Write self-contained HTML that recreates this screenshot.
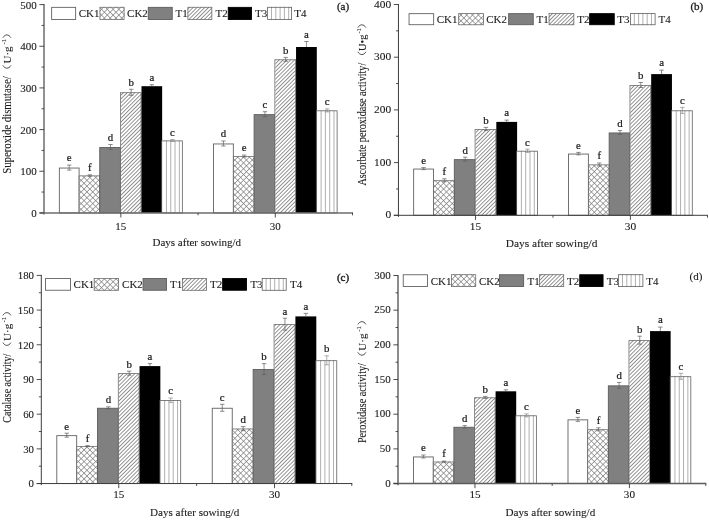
<!DOCTYPE html>
<html><head><meta charset="utf-8"><title>Figure</title>
<style>
html,body{margin:0;padding:0;background:#fff;}
body{width:709px;height:520px;overflow:hidden;font-family:"Liberation Serif",serif;}
svg{display:block;will-change:transform;transform:translateZ(0);}
text{font-family:"Liberation Serif",serif;fill:#1a1a1a;stroke:#1a1a1a;stroke-width:0.1px;}
.t{font-size:11px;}
.l{font-size:10.8px;stroke-width:0.22px;}
.s{font-size:10.5px;}
</style></head><body>
<svg width="709" height="520" viewBox="0 0 709 520">
<defs>
<pattern id="dg" width="2.72" height="2.72" patternUnits="userSpaceOnUse" patternTransform="rotate(-45)">
<rect width="2.72" height="2.72" fill="#fff"/><rect width="2.72" height="0.8" fill="#7a7a7a"/></pattern>
<pattern id="xh" width="4.1" height="4.1" patternUnits="userSpaceOnUse" patternTransform="rotate(45)">
<rect width="4.1" height="4.1" fill="#fff"/><rect width="4.1" height="0.65" fill="#7c7c7c"/><rect width="0.65" height="4.1" fill="#7c7c7c"/></pattern>
<pattern id="vl" width="4.3" height="4" patternUnits="userSpaceOnUse">
<rect width="4.3" height="4" fill="#fff"/><rect x="3.4" width="0.9" height="4" fill="#a8a8a8"/></pattern>
</defs>
<rect width="709" height="520" fill="#fff"/>

<g id="pa">
<rect x="59.35" y="168.05" width="19.75" height="44.85" fill="#fff" stroke="#626262" stroke-width="0.9"/>
<path d="M69.22 165.1V170.1M67.02 165.1H71.42M67.02 170.1H71.42" stroke="#5e5e5e" stroke-width="0.7" fill="none"/>
<text class="l" x="69.22" y="161.4" text-anchor="middle">e</text>
<rect x="79.55" y="175.5" width="20.65" height="37.4" fill="url(#xh)"/>
<rect x="79.1" y="175.9" width="20.65" height="37" fill="none" stroke="#707070" stroke-width="0.8"/>
<path d="M89.88 174.8V176.2M87.67 174.8H92.08M87.67 176.2H92.08" stroke="#5e5e5e" stroke-width="0.7" fill="none"/>
<text class="l" x="89.88" y="171.1" text-anchor="middle">f</text>
<rect x="99.75" y="147.45" width="20.65" height="65.45" fill="#808080" stroke="#5c5c5c" stroke-width="0.9"/>
<path d="M110.52 144.5V149.5M108.32 144.5H112.72M108.32 149.5H112.72" stroke="#5e5e5e" stroke-width="0.7" fill="none"/>
<text class="l" x="110.52" y="140.8" text-anchor="middle">d</text>
<rect x="120.85" y="92.3" width="20.65" height="120.6" fill="url(#dg)"/>
<rect x="120.4" y="92.7" width="20.65" height="120.2" fill="none" stroke="#707070" stroke-width="0.8"/>
<path d="M131.17 89.3V95.3M128.97 89.3H133.37M128.97 95.3H133.37" stroke="#5e5e5e" stroke-width="0.7" fill="none"/>
<text class="l" x="131.17" y="85.6" text-anchor="middle">b</text>
<rect x="141.5" y="86.2" width="20.65" height="126.7" fill="#000"/>
<path d="M151.82 84.7V86.2M149.62 84.7H154.02" stroke="#5e5e5e" stroke-width="0.7" fill="none"/>
<text class="l" x="151.82" y="81" text-anchor="middle">a</text>
<rect x="162.15" y="140.5" width="20.65" height="72.4" fill="#fff"/>
<path d="M166.45 140.50V212.90M170.75 140.50V212.90M175.05 140.50V212.90M179.35 140.50V212.90" stroke="#a2a2a2" stroke-width="0.85" fill="none"/>
<rect x="161.7" y="140.9" width="20.65" height="72" fill="none" stroke="#606060" stroke-width="0.8"/>
<path d="M172.47 139.5V141.5M170.28 139.5H174.67M170.28 141.5H174.67" stroke="#8a8a8a" stroke-width="0.7" fill="none"/>
<text class="l" x="172.47" y="135.8" text-anchor="middle">c</text>
<rect x="213.5" y="143.95" width="19.85" height="68.95" fill="#fff" stroke="#626262" stroke-width="0.9"/>
<path d="M223.43 141V146M221.23 141H225.62M221.23 146H225.62" stroke="#5e5e5e" stroke-width="0.7" fill="none"/>
<text class="l" x="223.43" y="137.3" text-anchor="middle">d</text>
<rect x="233.8" y="156.1" width="20.75" height="56.8" fill="url(#xh)"/>
<rect x="233.35" y="156.5" width="20.75" height="56.4" fill="none" stroke="#707070" stroke-width="0.8"/>
<path d="M244.18 155.1V157.1M241.98 155.1H246.38M241.98 157.1H246.38" stroke="#5e5e5e" stroke-width="0.7" fill="none"/>
<text class="l" x="244.18" y="151.4" text-anchor="middle">e</text>
<rect x="254.1" y="114.65" width="20.75" height="98.25" fill="#808080" stroke="#5c5c5c" stroke-width="0.9"/>
<path d="M264.93 111.7V116.7M262.73 111.7H267.12M262.73 116.7H267.12" stroke="#5e5e5e" stroke-width="0.7" fill="none"/>
<text class="l" x="264.93" y="108" text-anchor="middle">c</text>
<rect x="275.3" y="59.4" width="20.75" height="153.5" fill="url(#dg)"/>
<rect x="274.85" y="59.8" width="20.75" height="153.1" fill="none" stroke="#707070" stroke-width="0.8"/>
<path d="M285.68 57.4V61.4M283.48 57.4H287.88M283.48 61.4H287.88" stroke="#5e5e5e" stroke-width="0.7" fill="none"/>
<text class="l" x="285.68" y="53.7" text-anchor="middle">b</text>
<rect x="296.05" y="47" width="20.75" height="165.9" fill="#000"/>
<path d="M306.43 41.5V47M304.23 41.5H308.62" stroke="#5e5e5e" stroke-width="0.7" fill="none"/>
<text class="l" x="306.43" y="37.8" text-anchor="middle">a</text>
<rect x="316.8" y="110.4" width="20.75" height="102.5" fill="#fff"/>
<path d="M321.10 110.40V212.90M325.40 110.40V212.90M329.70 110.40V212.90M334.00 110.40V212.90" stroke="#a2a2a2" stroke-width="0.85" fill="none"/>
<rect x="316.35" y="110.8" width="20.75" height="102.1" fill="none" stroke="#606060" stroke-width="0.8"/>
<path d="M327.18 108.9V111.9M324.98 108.9H329.38M324.98 111.9H329.38" stroke="#8a8a8a" stroke-width="0.7" fill="none"/>
<text class="l" x="327.18" y="105.2" text-anchor="middle">c</text>
<path d="M44 4.1V214.5M39.4 212.9H353" stroke="#6e6e6e" stroke-width="1.5" fill="none"/>
<text class="t" x="36.7" y="217.1" style="font-size:11px" text-anchor="end">0</text>
<text class="t" x="36.7" y="175.44" style="font-size:11px" text-anchor="end">100</text>
<text class="t" x="36.7" y="133.78" style="font-size:11px" text-anchor="end">200</text>
<text class="t" x="36.7" y="92.12" style="font-size:11px" text-anchor="end">300</text>
<text class="t" x="36.7" y="50.46" style="font-size:11px" text-anchor="end">400</text>
<text class="t" x="36.7" y="8.8" style="font-size:11px" text-anchor="end">500</text>
<path d="M39.4 212.9H44M39.4 171.24H44M39.4 129.58H44M39.4 87.92H44M39.4 46.26H44M39.4 4.6H44M41.6 192.07H44M41.6 150.41H44M41.6 108.75H44M41.6 67.09H44M41.6 25.43H44M120.85 212.9V217.5M275.3 212.9V217.5M198.07 212.9V215.3M352.5 212.9V215.3" stroke="#3a3a3a" stroke-width="0.9" fill="none"/>
<text class="t" style="font-size:11px" x="120.85" y="229.5" text-anchor="middle">15</text>
<text class="t" style="font-size:11px" x="275.3" y="229.5" text-anchor="middle">30</text>
<text class="t" style="font-size:11px" x="196.8" y="246" text-anchor="middle">Days after sowing/d</text>
<g transform="translate(10.6 173.8) rotate(-90)">
<text x="0" y="0" font-size="11.5" textLength="97.6" lengthAdjust="spacingAndGlyphs">Superoxide dismutase/</text>
<path d="M108.4 -7.7C104.7 -5.6 104.7 -1.8 108.4 0.3" stroke="#1a1a1a" stroke-width="0.75" fill="none"/>
<text x="110.3" y="0" font-size="11.0">U·g</text>
<text x="129.3" y="-4.9" font-size="6.6">-1</text>
<path d="M136.1 -7.7C139.8 -5.6 139.8 -1.8 136.1 0.3" stroke="#1a1a1a" stroke-width="0.75" fill="none"/>
</g>
<rect x="51.65" y="7.35" width="24" height="12.1" fill="#fff" stroke="#626262" stroke-width="0.9"/>
<text class="t" x="78.7" y="17.3">CK1</text>
<rect x="99.6" y="6.9" width="24.9" height="13" fill="url(#xh)"/>
<rect x="100" y="7.3" width="24.1" height="12.2" fill="none" stroke="#707070" stroke-width="0.8"/>
<text class="t" x="127.1" y="17.3">CK2</text>
<rect x="148.25" y="7.35" width="24" height="12.1" fill="#808080" stroke="#5c5c5c" stroke-width="0.9"/>
<text class="t" x="175.5" y="17.3">T1</text>
<rect x="187.5" y="6.9" width="24.7" height="13" fill="url(#dg)"/>
<rect x="187.9" y="7.3" width="23.9" height="12.2" fill="none" stroke="#707070" stroke-width="0.8"/>
<text class="t" x="215.6" y="17.3">T2</text>
<rect x="228.25" y="7.35" width="23.2" height="12.1" fill="#000000" stroke="#000000" stroke-width="0.9"/>
<text class="t" x="255" y="17.3">T3</text>
<rect x="267.2" y="6.9" width="24.8" height="13" fill="#fff"/>
<path d="M271.50 6.90V19.90M275.80 6.90V19.90M280.10 6.90V19.90M284.40 6.90V19.90M288.70 6.90V19.90" stroke="#a2a2a2" stroke-width="0.85" fill="none"/>
<rect x="267.6" y="7.3" width="24" height="12.2" fill="none" stroke="#606060" stroke-width="0.8"/>
<text class="t" x="294.3" y="17.3">T4</text>
<text class="t" x="343" y="10.3" style="stroke-width:0.3px" text-anchor="middle">(a)</text>
</g>
<g id="pb">
<rect x="413.65" y="169.05" width="19.88" height="46.25" fill="#fff" stroke="#626262" stroke-width="0.9"/>
<path d="M423.59 167.6V169.6M421.39 167.6H425.79M421.39 169.6H425.79" stroke="#5e5e5e" stroke-width="0.7" fill="none"/>
<text class="l" x="423.59" y="163.9" text-anchor="middle">e</text>
<rect x="433.98" y="180.3" width="20.78" height="35" fill="url(#xh)"/>
<rect x="433.53" y="180.7" width="20.78" height="34.6" fill="none" stroke="#707070" stroke-width="0.8"/>
<path d="M444.37 178.8V181.8M442.17 178.8H446.57M442.17 181.8H446.57" stroke="#5e5e5e" stroke-width="0.7" fill="none"/>
<text class="l" x="444.37" y="175.1" text-anchor="middle">f</text>
<rect x="454.31" y="159.65" width="20.78" height="55.65" fill="#808080" stroke="#5c5c5c" stroke-width="0.9"/>
<path d="M465.15 157.2V161.2M462.95 157.2H467.35M462.95 161.2H467.35" stroke="#5e5e5e" stroke-width="0.7" fill="none"/>
<text class="l" x="465.15" y="153.5" text-anchor="middle">d</text>
<rect x="475.54" y="129" width="20.78" height="86.3" fill="url(#dg)"/>
<rect x="475.09" y="129.4" width="20.78" height="85.9" fill="none" stroke="#707070" stroke-width="0.8"/>
<path d="M485.93 127.4V130.6M483.73 127.4H488.13M483.73 130.6H488.13" stroke="#5e5e5e" stroke-width="0.7" fill="none"/>
<text class="l" x="485.93" y="123.7" text-anchor="middle">b</text>
<rect x="496.32" y="121.9" width="20.78" height="93.4" fill="#000"/>
<path d="M506.71 120.1V121.9M504.51 120.1H508.91" stroke="#5e5e5e" stroke-width="0.7" fill="none"/>
<text class="l" x="506.71" y="116.4" text-anchor="middle">a</text>
<rect x="517.1" y="150.8" width="20.78" height="64.5" fill="#fff"/>
<path d="M521.40 150.80V215.30M525.70 150.80V215.30M530.00 150.80V215.30M534.30 150.80V215.30" stroke="#a2a2a2" stroke-width="0.85" fill="none"/>
<rect x="516.65" y="151.2" width="20.78" height="64.1" fill="none" stroke="#606060" stroke-width="0.8"/>
<path d="M527.49 149.2V152.4M525.29 149.2H529.69M525.29 152.4H529.69" stroke="#8a8a8a" stroke-width="0.7" fill="none"/>
<text class="l" x="527.49" y="145.5" text-anchor="middle">c</text>
<rect x="568.5" y="154.05" width="19.88" height="61.25" fill="#fff" stroke="#626262" stroke-width="0.9"/>
<path d="M578.44 152.4V154.8M576.24 152.4H580.64M576.24 154.8H580.64" stroke="#5e5e5e" stroke-width="0.7" fill="none"/>
<text class="l" x="578.44" y="148.7" text-anchor="middle">e</text>
<rect x="588.83" y="164.5" width="20.78" height="50.8" fill="url(#xh)"/>
<rect x="588.38" y="164.9" width="20.78" height="50.4" fill="none" stroke="#707070" stroke-width="0.8"/>
<path d="M599.22 163V166M597.02 163H601.42M597.02 166H601.42" stroke="#5e5e5e" stroke-width="0.7" fill="none"/>
<text class="l" x="599.22" y="159.3" text-anchor="middle">f</text>
<rect x="609.16" y="132.95" width="20.78" height="82.35" fill="#808080" stroke="#5c5c5c" stroke-width="0.9"/>
<path d="M620 130.5V134.5M617.8 130.5H622.2M617.8 134.5H622.2" stroke="#5e5e5e" stroke-width="0.7" fill="none"/>
<text class="l" x="620" y="126.8" text-anchor="middle">d</text>
<rect x="630.39" y="85" width="20.78" height="130.3" fill="url(#dg)"/>
<rect x="629.94" y="85.4" width="20.78" height="129.9" fill="none" stroke="#707070" stroke-width="0.8"/>
<path d="M640.78 82.5V87.5M638.58 82.5H642.98M638.58 87.5H642.98" stroke="#5e5e5e" stroke-width="0.7" fill="none"/>
<text class="l" x="640.78" y="78.8" text-anchor="middle">b</text>
<rect x="651.17" y="74.1" width="20.78" height="141.2" fill="#000"/>
<path d="M661.56 70.1V74.1M659.36 70.1H663.76" stroke="#5e5e5e" stroke-width="0.7" fill="none"/>
<text class="l" x="661.56" y="66.4" text-anchor="middle">a</text>
<rect x="671.95" y="110.4" width="20.78" height="104.9" fill="#fff"/>
<path d="M676.25 110.40V215.30M680.55 110.40V215.30M684.85 110.40V215.30M689.15 110.40V215.30" stroke="#a2a2a2" stroke-width="0.85" fill="none"/>
<rect x="671.5" y="110.8" width="20.78" height="104.5" fill="none" stroke="#606060" stroke-width="0.8"/>
<path d="M682.34 107.4V113.4M680.14 107.4H684.54M680.14 113.4H684.54" stroke="#8a8a8a" stroke-width="0.7" fill="none"/>
<text class="l" x="682.34" y="103.7" text-anchor="middle">c</text>
<path d="M398.45 4V216.9M393.85 215.3H708" stroke="#3c3c3c" stroke-width="1.0" fill="none"/>
<text class="t" x="391.15" y="218.3" style="font-size:11.4px" text-anchor="end">0</text>
<text class="t" x="391.15" y="165.6" style="font-size:11.4px" text-anchor="end">100</text>
<text class="t" x="391.15" y="112.9" style="font-size:11.4px" text-anchor="end">200</text>
<text class="t" x="391.15" y="60.2" style="font-size:11.4px" text-anchor="end">300</text>
<text class="t" x="391.15" y="7.5" style="font-size:11.4px" text-anchor="end">400</text>
<path d="M393.85 215.3H398.45M393.85 162.6H398.45M393.85 109.9H398.45M393.85 57.2H398.45M393.85 4.5H398.45M396.05 188.95H398.45M396.05 136.25H398.45M396.05 83.55H398.45M396.05 30.85H398.45M475.54 215.3V219.9M630.39 215.3V219.9M552.96 215.3V217.7M707.5 215.3V217.7" stroke="#3a3a3a" stroke-width="0.9" fill="none"/>
<text class="t" style="font-size:11.4px" x="475.54" y="229.6" text-anchor="middle">15</text>
<text class="t" style="font-size:11.4px" x="630.39" y="229.6" text-anchor="middle">30</text>
<text class="t" style="font-size:11.4px" x="551.6" y="246.7" text-anchor="middle">Days after sowing/d</text>
<g transform="translate(365.6 185.6) rotate(-90)">
<text x="0" y="0" font-size="11.5" textLength="122.8" lengthAdjust="spacingAndGlyphs">Ascorbate peroxidase activity/</text>
<path d="M133.8 -7.7C130.1 -5.6 130.1 -1.8 133.8 0.3" stroke="#1a1a1a" stroke-width="0.75" fill="none"/>
<text x="134.6" y="0" font-size="10.4">U•g</text>
<text x="152" y="-4.9" font-size="6.6">-1</text>
<path d="M158 -7.7C161.7 -5.6 161.7 -1.8 158 0.3" stroke="#1a1a1a" stroke-width="0.75" fill="none"/>
</g>
<rect x="409.05" y="13.65" width="24.6" height="11.05" fill="#fff" stroke="#626262" stroke-width="0.9"/>
<text class="t" x="436.7" y="23.07">CK1</text>
<rect x="458.3" y="13.2" width="25.5" height="11.95" fill="url(#xh)"/>
<rect x="458.7" y="13.6" width="24.7" height="11.15" fill="none" stroke="#707070" stroke-width="0.8"/>
<text class="t" x="486.2" y="23.07">CK2</text>
<rect x="508.65" y="13.65" width="24.6" height="11.05" fill="#808080" stroke="#5c5c5c" stroke-width="0.9"/>
<text class="t" x="536.6" y="23.07">T1</text>
<rect x="548.7" y="13.2" width="25.5" height="11.95" fill="url(#dg)"/>
<rect x="549.1" y="13.6" width="24.7" height="11.15" fill="none" stroke="#707070" stroke-width="0.8"/>
<text class="t" x="577.2" y="23.07">T2</text>
<rect x="589.65" y="13.65" width="24.6" height="11.05" fill="#000000" stroke="#000000" stroke-width="0.9"/>
<text class="t" x="617.3" y="23.07">T3</text>
<rect x="630" y="13.2" width="25.5" height="11.95" fill="#fff"/>
<path d="M634.30 13.20V25.15M638.60 13.20V25.15M642.90 13.20V25.15M647.20 13.20V25.15M651.50 13.20V25.15" stroke="#a2a2a2" stroke-width="0.85" fill="none"/>
<rect x="630.4" y="13.6" width="24.7" height="11.15" fill="none" stroke="#606060" stroke-width="0.8"/>
<text class="t" x="658.5" y="23.07">T4</text>
<text class="t" x="696.8" y="10.2" style="stroke-width:0.3px" text-anchor="middle">(b)</text>
</g>
<g id="pc">
<rect x="56.8" y="435.65" width="19.9" height="47.9" fill="#fff" stroke="#626262" stroke-width="0.9"/>
<path d="M66.75 433.2V437.2M64.55 433.2H68.95M64.55 437.2H68.95" stroke="#5e5e5e" stroke-width="0.7" fill="none"/>
<text class="l" x="66.75" y="429.5" text-anchor="middle">e</text>
<rect x="77.15" y="446.1" width="20.8" height="37.45" fill="url(#xh)"/>
<rect x="76.7" y="446.5" width="20.8" height="37.05" fill="none" stroke="#707070" stroke-width="0.8"/>
<path d="M87.55 445.6V446.6M85.35 445.6H89.75M85.35 446.6H89.75" stroke="#5e5e5e" stroke-width="0.7" fill="none"/>
<text class="l" x="87.55" y="441.9" text-anchor="middle">f</text>
<rect x="97.5" y="408.25" width="20.8" height="75.3" fill="#808080" stroke="#5c5c5c" stroke-width="0.9"/>
<path d="M108.35 406.8V408.8M106.15 406.8H110.55M106.15 408.8H110.55" stroke="#5e5e5e" stroke-width="0.7" fill="none"/>
<text class="l" x="108.35" y="403.1" text-anchor="middle">d</text>
<rect x="118.75" y="373.2" width="20.8" height="110.35" fill="url(#dg)"/>
<rect x="118.3" y="373.6" width="20.8" height="109.95" fill="none" stroke="#707070" stroke-width="0.8"/>
<path d="M129.15 371.2V375.2M126.95 371.2H131.35M126.95 375.2H131.35" stroke="#5e5e5e" stroke-width="0.7" fill="none"/>
<text class="l" x="129.15" y="367.5" text-anchor="middle">b</text>
<rect x="139.55" y="366.1" width="20.8" height="117.45" fill="#000"/>
<path d="M149.95 363.6V366.1M147.75 363.6H152.15" stroke="#5e5e5e" stroke-width="0.7" fill="none"/>
<text class="l" x="149.95" y="359.9" text-anchor="middle">a</text>
<rect x="160.35" y="400.2" width="20.8" height="83.35" fill="#fff"/>
<path d="M164.65 400.20V483.55M168.95 400.20V483.55M173.25 400.20V483.55M177.55 400.20V483.55" stroke="#a2a2a2" stroke-width="0.85" fill="none"/>
<rect x="159.9" y="400.6" width="20.8" height="82.95" fill="none" stroke="#606060" stroke-width="0.8"/>
<path d="M170.75 398V402.4M168.55 398H172.95M168.55 402.4H172.95" stroke="#8a8a8a" stroke-width="0.7" fill="none"/>
<text class="l" x="170.75" y="394.3" text-anchor="middle">c</text>
<rect x="212.25" y="408.25" width="20" height="75.3" fill="#fff" stroke="#626262" stroke-width="0.9"/>
<path d="M222.25 404.3V411.3M220.05 404.3H224.45M220.05 411.3H224.45" stroke="#5e5e5e" stroke-width="0.7" fill="none"/>
<text class="l" x="222.25" y="400.6" text-anchor="middle">c</text>
<rect x="232.7" y="428.6" width="20.9" height="54.95" fill="url(#xh)"/>
<rect x="232.25" y="429" width="20.9" height="54.55" fill="none" stroke="#707070" stroke-width="0.8"/>
<path d="M243.15 426.6V430.6M240.95 426.6H245.35M240.95 430.6H245.35" stroke="#5e5e5e" stroke-width="0.7" fill="none"/>
<text class="l" x="243.15" y="422.9" text-anchor="middle">d</text>
<rect x="253.15" y="369.55" width="20.9" height="114" fill="#808080" stroke="#5c5c5c" stroke-width="0.9"/>
<path d="M264.05 363.6V374.6M261.85 363.6H266.25M261.85 374.6H266.25" stroke="#5e5e5e" stroke-width="0.7" fill="none"/>
<text class="l" x="264.05" y="359.9" text-anchor="middle">b</text>
<rect x="274.5" y="324.2" width="20.9" height="159.35" fill="url(#dg)"/>
<rect x="274.05" y="324.6" width="20.9" height="158.95" fill="none" stroke="#707070" stroke-width="0.8"/>
<path d="M284.95 318.2V330.2M282.75 318.2H287.15M282.75 330.2H287.15" stroke="#5e5e5e" stroke-width="0.7" fill="none"/>
<text class="l" x="284.95" y="314.5" text-anchor="middle">a</text>
<rect x="295.4" y="316.4" width="20.9" height="167.15" fill="#000"/>
<path d="M305.85 313.4V316.4M303.65 313.4H308.05" stroke="#5e5e5e" stroke-width="0.7" fill="none"/>
<text class="l" x="305.85" y="309.7" text-anchor="middle">a</text>
<rect x="316.3" y="360.3" width="20.9" height="123.25" fill="#fff"/>
<path d="M320.60 360.30V483.55M324.90 360.30V483.55M329.20 360.30V483.55M333.50 360.30V483.55" stroke="#a2a2a2" stroke-width="0.85" fill="none"/>
<rect x="315.85" y="360.7" width="20.9" height="122.85" fill="none" stroke="#606060" stroke-width="0.8"/>
<path d="M326.75 355.8V364.8M324.55 355.8H328.95M324.55 364.8H328.95" stroke="#8a8a8a" stroke-width="0.7" fill="none"/>
<text class="l" x="326.75" y="352.1" text-anchor="middle">b</text>
<path d="M41.3 274.9V485.15M36.7 483.55H352.3" stroke="#3c3c3c" stroke-width="1.0" fill="none"/>
<text class="t" x="34" y="487.35" style="font-size:10.8px" text-anchor="end">0</text>
<text class="t" x="34" y="452.66" style="font-size:10.8px" text-anchor="end">30</text>
<text class="t" x="34" y="417.97" style="font-size:10.8px" text-anchor="end">60</text>
<text class="t" x="34" y="383.28" style="font-size:10.8px" text-anchor="end">90</text>
<text class="t" x="34" y="348.58" style="font-size:10.8px" text-anchor="end">120</text>
<text class="t" x="34" y="313.89" style="font-size:10.8px" text-anchor="end">150</text>
<text class="t" x="34" y="279.2" style="font-size:10.8px" text-anchor="end">180</text>
<path d="M36.7 483.55H41.3M36.7 448.86H41.3M36.7 414.17H41.3M36.7 379.48H41.3M36.7 344.78H41.3M36.7 310.09H41.3M36.7 275.4H41.3M38.9 466.2H41.3M38.9 431.51H41.3M38.9 396.82H41.3M38.9 362.13H41.3M38.9 327.44H41.3M38.9 292.75H41.3M118.75 483.55V488.15M274.5 483.55V488.15M196.62 483.55V485.95M351.8 483.55V485.95" stroke="#3a3a3a" stroke-width="0.9" fill="none"/>
<text class="t" style="font-size:11.1px" x="118.75" y="498.4" text-anchor="middle">15</text>
<text class="t" style="font-size:11.1px" x="274.5" y="498.4" text-anchor="middle">30</text>
<text class="t" style="font-size:11.1px" x="194.7" y="516.3" text-anchor="middle">Days after sowing/d</text>
<g transform="translate(10.6 422.7) rotate(-90)">
<text x="0" y="0" font-size="11.5" textLength="69" lengthAdjust="spacingAndGlyphs">Catalase activity/</text>
<path d="M80.1 -7.7C76.4 -5.6 76.4 -1.8 80.1 0.3" stroke="#1a1a1a" stroke-width="0.75" fill="none"/>
<text x="81.8" y="0" font-size="11.0">U·g</text>
<text x="100.2" y="-4.9" font-size="6.6">-1</text>
<path d="M107.3 -7.7C111 -5.6 111 -1.8 107.3 0.3" stroke="#1a1a1a" stroke-width="0.75" fill="none"/>
</g>
<rect x="45.55" y="278.55" width="24.9" height="11.7" fill="#fff" stroke="#626262" stroke-width="0.9"/>
<text class="t" x="73.6" y="288.3">CK1</text>
<rect x="93.8" y="278.1" width="25.2" height="12.6" fill="url(#xh)"/>
<rect x="94.2" y="278.5" width="24.4" height="11.8" fill="none" stroke="#707070" stroke-width="0.8"/>
<text class="t" x="122.1" y="288.3">CK2</text>
<rect x="143.05" y="278.55" width="23.5" height="11.7" fill="#808080" stroke="#5c5c5c" stroke-width="0.9"/>
<text class="t" x="170" y="288.3">T1</text>
<rect x="182" y="278.1" width="24.8" height="12.6" fill="url(#dg)"/>
<rect x="182.4" y="278.5" width="24" height="11.8" fill="none" stroke="#707070" stroke-width="0.8"/>
<text class="t" x="210" y="288.3">T2</text>
<rect x="222.65" y="278.55" width="23.9" height="11.7" fill="#000000" stroke="#000000" stroke-width="0.9"/>
<text class="t" x="250.4" y="288.3">T3</text>
<rect x="261.8" y="278.1" width="24.8" height="12.6" fill="#fff"/>
<path d="M266.10 278.10V290.70M270.40 278.10V290.70M274.70 278.10V290.70M279.00 278.10V290.70M283.30 278.10V290.70" stroke="#a2a2a2" stroke-width="0.85" fill="none"/>
<rect x="262.2" y="278.5" width="24" height="11.8" fill="none" stroke="#606060" stroke-width="0.8"/>
<text class="t" x="290" y="288.3">T4</text>
<text class="t" x="343" y="280.8" style="stroke-width:0.4px" text-anchor="middle">(c)</text>
</g>
<g id="pd">
<rect x="413.55" y="456.95" width="19.72" height="26.6" fill="#fff" stroke="#626262" stroke-width="0.9"/>
<path d="M423.41 455V458M421.21 455H425.61M421.21 458H425.61" stroke="#5e5e5e" stroke-width="0.7" fill="none"/>
<text class="l" x="423.41" y="451.3" text-anchor="middle">e</text>
<rect x="433.72" y="461.6" width="20.62" height="21.95" fill="url(#xh)"/>
<rect x="433.27" y="462" width="20.62" height="21.55" fill="none" stroke="#707070" stroke-width="0.8"/>
<path d="M444.03 461.1V462.1M441.83 461.1H446.23M441.83 462.1H446.23" stroke="#5e5e5e" stroke-width="0.7" fill="none"/>
<text class="l" x="444.03" y="457.4" text-anchor="middle">f</text>
<rect x="453.89" y="427.25" width="20.62" height="56.3" fill="#808080" stroke="#5c5c5c" stroke-width="0.9"/>
<path d="M464.65 425.6V428M462.45 425.6H466.85M462.45 428H466.85" stroke="#5e5e5e" stroke-width="0.7" fill="none"/>
<text class="l" x="464.65" y="421.9" text-anchor="middle">d</text>
<rect x="474.96" y="397.4" width="20.62" height="86.15" fill="url(#dg)"/>
<rect x="474.51" y="397.8" width="20.62" height="85.75" fill="none" stroke="#707070" stroke-width="0.8"/>
<path d="M485.27 396.4V398.4M483.07 396.4H487.47M483.07 398.4H487.47" stroke="#5e5e5e" stroke-width="0.7" fill="none"/>
<text class="l" x="485.27" y="392.7" text-anchor="middle">b</text>
<rect x="495.58" y="391.3" width="20.62" height="92.25" fill="#000"/>
<path d="M505.89 389.8V391.3M503.69 389.8H508.09" stroke="#5e5e5e" stroke-width="0.7" fill="none"/>
<text class="l" x="505.89" y="386.1" text-anchor="middle">a</text>
<rect x="516.2" y="415.4" width="20.62" height="68.15" fill="#fff"/>
<path d="M520.50 415.40V483.55M524.80 415.40V483.55M529.10 415.40V483.55M533.40 415.40V483.55" stroke="#a2a2a2" stroke-width="0.85" fill="none"/>
<rect x="515.75" y="415.8" width="20.62" height="67.75" fill="none" stroke="#606060" stroke-width="0.8"/>
<path d="M526.51 413.9V416.9M524.31 413.9H528.71M524.31 416.9H528.71" stroke="#8a8a8a" stroke-width="0.7" fill="none"/>
<text class="l" x="526.51" y="410.2" text-anchor="middle">c</text>
<rect x="568" y="419.85" width="19.72" height="63.7" fill="#fff" stroke="#626262" stroke-width="0.9"/>
<path d="M577.86 417.4V421.4M575.66 417.4H580.06M575.66 421.4H580.06" stroke="#5e5e5e" stroke-width="0.7" fill="none"/>
<text class="l" x="577.86" y="413.7" text-anchor="middle">e</text>
<rect x="588.17" y="429.3" width="20.62" height="54.25" fill="url(#xh)"/>
<rect x="587.72" y="429.7" width="20.62" height="53.85" fill="none" stroke="#707070" stroke-width="0.8"/>
<path d="M598.48 427.8V430.8M596.28 427.8H600.68M596.28 430.8H600.68" stroke="#5e5e5e" stroke-width="0.7" fill="none"/>
<text class="l" x="598.48" y="424.1" text-anchor="middle">f</text>
<rect x="608.34" y="385.85" width="20.62" height="97.7" fill="#808080" stroke="#5c5c5c" stroke-width="0.9"/>
<path d="M619.1 382.4V388.4M616.9 382.4H621.3M616.9 388.4H621.3" stroke="#5e5e5e" stroke-width="0.7" fill="none"/>
<text class="l" x="619.1" y="378.7" text-anchor="middle">d</text>
<rect x="629.41" y="340.2" width="20.62" height="143.35" fill="url(#dg)"/>
<rect x="628.96" y="340.6" width="20.62" height="142.95" fill="none" stroke="#707070" stroke-width="0.8"/>
<path d="M639.72 336.2V344.2M637.52 336.2H641.92M637.52 344.2H641.92" stroke="#5e5e5e" stroke-width="0.7" fill="none"/>
<text class="l" x="639.72" y="332.5" text-anchor="middle">b</text>
<rect x="650.03" y="331.1" width="20.62" height="152.45" fill="#000"/>
<path d="M660.34 327.1V331.1M658.14 327.1H662.54" stroke="#5e5e5e" stroke-width="0.7" fill="none"/>
<text class="l" x="660.34" y="323.4" text-anchor="middle">a</text>
<rect x="670.65" y="376.3" width="20.62" height="107.25" fill="#fff"/>
<path d="M674.95 376.30V483.55M679.25 376.30V483.55M683.55 376.30V483.55M687.85 376.30V483.55" stroke="#a2a2a2" stroke-width="0.85" fill="none"/>
<rect x="670.2" y="376.7" width="20.62" height="106.85" fill="none" stroke="#606060" stroke-width="0.8"/>
<path d="M680.96 373.3V379.3M678.76 373.3H683.16M678.76 379.3H683.16" stroke="#8a8a8a" stroke-width="0.7" fill="none"/>
<text class="l" x="680.96" y="369.6" text-anchor="middle">c</text>
<path d="M398 275V485.15M393.4 483.55H706.3" stroke="#5c5c5c" stroke-width="1.4" fill="none"/>
<text class="t" x="390.7" y="486.65" style="font-size:11px" text-anchor="end">0</text>
<text class="t" x="390.7" y="451.98" style="font-size:11px" text-anchor="end">50</text>
<text class="t" x="390.7" y="417.3" style="font-size:11px" text-anchor="end">100</text>
<text class="t" x="390.7" y="382.62" style="font-size:11px" text-anchor="end">150</text>
<text class="t" x="390.7" y="347.95" style="font-size:11px" text-anchor="end">200</text>
<text class="t" x="390.7" y="313.28" style="font-size:11px" text-anchor="end">250</text>
<text class="t" x="390.7" y="278.6" style="font-size:11px" text-anchor="end">300</text>
<path d="M393.4 483.55H398M393.4 448.88H398M393.4 414.2H398M393.4 379.52H398M393.4 344.85H398M393.4 310.18H398M393.4 275.5H398M395.6 466.21H398M395.6 431.54H398M395.6 396.86H398M395.6 362.19H398M395.6 327.51H398M395.6 292.84H398M474.96 483.55V488.15M629.41 483.55V488.15M552.18 483.55V485.95M705.8 483.55V485.95" stroke="#3a3a3a" stroke-width="0.9" fill="none"/>
<text class="t" style="font-size:11.15px" x="474.96" y="498.4" text-anchor="middle">15</text>
<text class="t" style="font-size:11.15px" x="629.41" y="498.4" text-anchor="middle">30</text>
<text class="t" style="font-size:11.15px" x="550.4" y="516.3" text-anchor="middle">Days after sowing/d</text>
<g transform="translate(365.6 443.1) rotate(-90)">
<text x="0" y="0" font-size="11.5" textLength="79.9" lengthAdjust="spacingAndGlyphs">Peroxidase activity/</text>
<path d="M90.7 -7.7C87 -5.6 87 -1.8 90.7 0.3" stroke="#1a1a1a" stroke-width="0.75" fill="none"/>
<text x="92.4" y="0" font-size="11.0">U·g</text>
<text x="111.4" y="-4.9" font-size="6.6">-1</text>
<path d="M118.7 -7.7C122.4 -5.6 122.4 -1.8 118.7 0.3" stroke="#1a1a1a" stroke-width="0.75" fill="none"/>
</g>
<rect x="403.25" y="274.75" width="24.2" height="11.8" fill="#fff" stroke="#626262" stroke-width="0.9"/>
<text class="t" x="430.7" y="284.55">CK1</text>
<rect x="451" y="274.3" width="25.1" height="12.7" fill="url(#xh)"/>
<rect x="451.4" y="274.7" width="24.3" height="11.9" fill="none" stroke="#707070" stroke-width="0.8"/>
<text class="t" x="478.9" y="284.55">CK2</text>
<rect x="499.45" y="274.75" width="24.2" height="11.8" fill="#808080" stroke="#5c5c5c" stroke-width="0.9"/>
<text class="t" x="527.6" y="284.55">T1</text>
<rect x="539" y="274.3" width="25.1" height="12.7" fill="url(#dg)"/>
<rect x="539.4" y="274.7" width="24.3" height="11.9" fill="none" stroke="#707070" stroke-width="0.8"/>
<text class="t" x="567" y="284.55">T2</text>
<rect x="579.75" y="274.75" width="23.3" height="11.8" fill="#000000" stroke="#000000" stroke-width="0.9"/>
<text class="t" x="606.7" y="284.55">T3</text>
<rect x="618.2" y="274.3" width="25.1" height="12.7" fill="#fff"/>
<path d="M622.50 274.30V287.00M626.80 274.30V287.00M631.10 274.30V287.00M635.40 274.30V287.00M639.70 274.30V287.00" stroke="#a2a2a2" stroke-width="0.85" fill="none"/>
<rect x="618.6" y="274.7" width="24.3" height="11.9" fill="none" stroke="#606060" stroke-width="0.8"/>
<text class="t" x="646.3" y="284.55">T4</text>
<text class="t" x="696" y="280.3" style="stroke-width:0.1px" text-anchor="middle">(d)</text>
</g>
</svg></body></html>
